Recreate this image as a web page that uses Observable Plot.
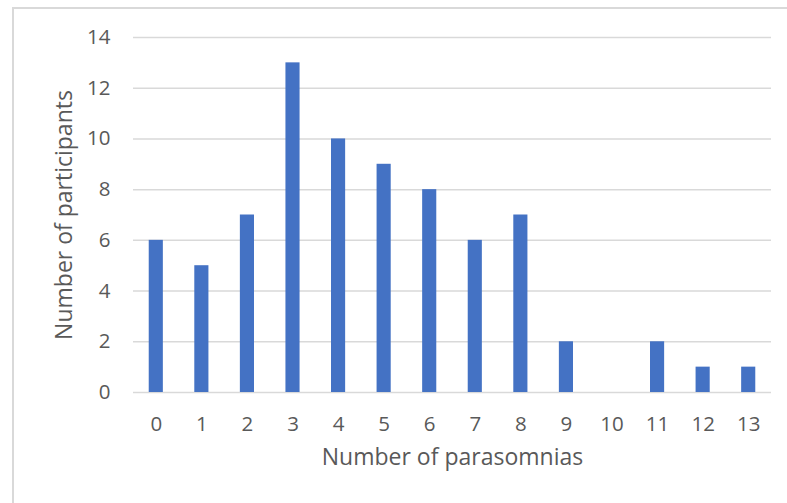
<!DOCTYPE html>
<html>
<head>
<meta charset="utf-8">
<script src="https://cdn.jsdelivr.net/npm/d3@7"></script>
<script src="https://cdn.jsdelivr.net/npm/@observablehq/plot@0.6"></script>
<style>
  html, body { margin: 0; padding: 0; background: #fff; }
  #wrap { position: relative; width: 787px; height: 503px; overflow: hidden; }
  #frame { position: absolute; left: 12px; top: 7px; width: 800px; height: 520px;
           border-left: 2px solid #d9d9d9; border-top: 2px solid #d9d9d9; box-sizing: border-box; }
  #chart { position: absolute; left: 0; top: 0; }
</style>
</head>
<body>
<div id="wrap"><div id="frame"></div><div id="chart"></div></div>
<script>
const categories = ["0","1","2","3","4","5","6","7","8","9","10","11","12","13"];
const counts = [6, 5, 7, 13, 10, 9, 8, 6, 7, 2, 0, 2, 1, 1];
const yTicks = [0, 2, 4, 6, 8, 10, 12, 14];
const xTitle = "Number of parasomnias";
const yTitle = "Number of participants";

const data = categories.map((c, i) => ({cat: c, n: counts[i]}));
const font = "'Open Sans', sans-serif";

const chart = Plot.plot({
  width: 787,
  height: 503,
  marginLeft: 133,
  marginRight: 16,
  marginTop: 37,
  marginBottom: 111,
  style: {fontFamily: font, color: "#595959", background: "transparent"},
  x: {domain: categories, paddingInner: 0.69, paddingOuter: 0.345, round: false, label: null},
  y: {domain: [0, 14], label: null},
  marks: [
    Plot.gridY(yTicks, {stroke: "#d9d9d9", strokeOpacity: 1, strokeWidth: 1.5}),
    Plot.barY(data, {x: "cat", y: "n", fill: "#4472C4"}),
    Plot.axisY(yTicks, {tickSize: 0, tickPadding: 23, label: null, fill: "#595959", fontSize: 20.5, fontFamily: font}),
    Plot.axisX({tickSize: 0, tickPadding: 24, label: null, fill: "#595959", fontSize: 20.5, fontFamily: font}),
    Plot.text([yTitle], {frameAnchor: "left", dx: -69, rotate: -90, textAnchor: "middle", fontSize: 23, fontFamily: font, fill: "#595959", text: d => d}),
    Plot.text([xTitle], {frameAnchor: "bottom", dy: 72, textAnchor: "middle", fontSize: 23, fontFamily: font, fill: "#595959", text: d => d})
  ]
});
document.getElementById("chart").appendChild(chart);
</script>
</body>
</html>
